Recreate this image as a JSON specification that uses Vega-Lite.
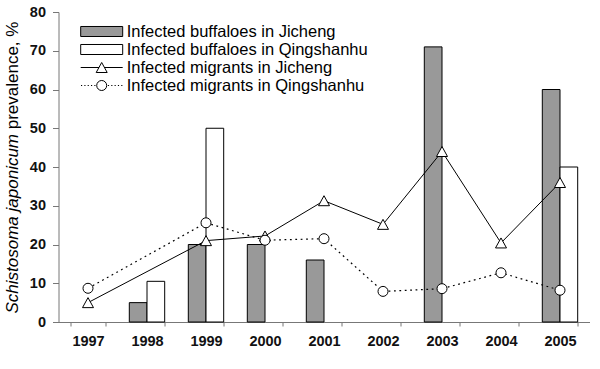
{
  "$schema": "https://vega.github.io/schema/vega-lite/v6.json",
  "width": 531,
  "height": 310,
  "autosize": {"type": "none"},
  "padding": {"left": 58.5, "top": 12, "right": 10.5, "bottom": 47},
  "background": "white",
  "config": {
    "view": {"stroke": null},
    "font": "Liberation Sans",
    "axis": {"grid": false}
  },
  "datasets": {
    "d": [
      {"year": "1998", "series": "Infected buffaloes in Jicheng", "value": 5},
      {"year": "1999", "series": "Infected buffaloes in Jicheng", "value": 20},
      {"year": "2000", "series": "Infected buffaloes in Jicheng", "value": 20},
      {"year": "2001", "series": "Infected buffaloes in Jicheng", "value": 16},
      {"year": "2003", "series": "Infected buffaloes in Jicheng", "value": 71},
      {"year": "2005", "series": "Infected buffaloes in Jicheng", "value": 60},
      {"year": "1998", "series": "Infected buffaloes in Qingshanhu", "value": 10.5},
      {"year": "1999", "series": "Infected buffaloes in Qingshanhu", "value": 50},
      {"year": "2005", "series": "Infected buffaloes in Qingshanhu", "value": 40},
      {"year": "1997", "series": "Infected migrants in Jicheng", "value": 5},
      {"year": "1999", "series": "Infected migrants in Jicheng", "value": 21},
      {"year": "2000", "series": "Infected migrants in Jicheng", "value": 22.2},
      {"year": "2001", "series": "Infected migrants in Jicheng", "value": 31.3},
      {"year": "2002", "series": "Infected migrants in Jicheng", "value": 25.2},
      {"year": "2003", "series": "Infected migrants in Jicheng", "value": 44},
      {"year": "2004", "series": "Infected migrants in Jicheng", "value": 20.4},
      {"year": "2005", "series": "Infected migrants in Jicheng", "value": 36},
      {"year": "1997", "series": "Infected migrants in Qingshanhu", "value": 8.7},
      {"year": "1999", "series": "Infected migrants in Qingshanhu", "value": 25.6},
      {"year": "2000", "series": "Infected migrants in Qingshanhu", "value": 21.1},
      {"year": "2001", "series": "Infected migrants in Qingshanhu", "value": 21.5},
      {"year": "2002", "series": "Infected migrants in Qingshanhu", "value": 7.9},
      {"year": "2003", "series": "Infected migrants in Qingshanhu", "value": 8.6},
      {"year": "2004", "series": "Infected migrants in Qingshanhu", "value": 12.7},
      {"year": "2005", "series": "Infected migrants in Qingshanhu", "value": 8.2}
    ]
  },
  "data": {"name": "d"},
  "encoding": {
    "x": {
      "field": "year",
      "type": "ordinal",
      "scale": {
        "domain": ["1997", "1998", "1999", "2000", "2001", "2002", "2003", "2004", "2005"],
        "paddingInner": 0.4,
        "paddingOuter": 0.2
      },
      "axis": {
        "title": "Schistosoma japonicum",
        "titleFontSize": 17,
        "titleFontWeight": "normal",
        "titleFontStyle": "italic",
        "titleColor": "black",
        "titleAngle": -90,
        "titleX": -46.5,
        "titleY": -9,
        "titleAlign": "left",
        "titleBaseline": "middle",
        "labelAngle": 0,
        "tickBand": "extent",
        "labelFontSize": 14.5,
        "labelFontWeight": "bold",
        "labelColor": "#111111",
        "labelPadding": 8,
        "tickSize": 4,
        "tickColor": "#777777",
        "domainColor": "#777777"
      }
    },
    "y": {
      "field": "value",
      "type": "quantitative",
      "scale": {"domain": [0, 80], "nice": false},
      "axis": {
        "values": [0, 10, 20, 30, 40, 50, 60, 70, 80],
        "title": "prevalence, %",
        "titleFontSize": 17,
        "titleFontWeight": "normal",
        "titleColor": "black",
        "titleAngle": -90,
        "titleX": -46.5,
        "titleY": 116.8,
        "titleAlign": "left",
        "titleBaseline": "middle",
        "labelFontSize": 14.5,
        "labelFontWeight": "bold",
        "labelColor": "#111111",
        "labelPadding": 7,
        "tickSize": 6,
        "tickColor": "#777777",
        "domainColor": "#777777"
      }
    }
  },
  "layer": [
    {
      "transform": [{"filter": "indexof(datum.series, 'buffaloes') >= 0"}],
      "mark": {"type": "bar", "stroke": "black", "strokeWidth": 1},
      "encoding": {
        "xOffset": {
          "field": "series",
          "type": "nominal",
          "scale": {"domain": ["Infected buffaloes in Jicheng", "Infected buffaloes in Qingshanhu"], "paddingInner": 0, "paddingOuter": 0}
        },
        "fill": {
          "condition": {"test": "datum.series === 'Infected buffaloes in Jicheng'", "value": "#999999"},
          "value": "white"
        }
      }
    },
    {
      "transform": [{"filter": "datum.series === 'Infected migrants in Jicheng'"}],
      "mark": {"type": "line", "color": "black", "strokeWidth": 1}
    },
    {
      "transform": [{"filter": "datum.series === 'Infected migrants in Qingshanhu'"}],
      "mark": {"type": "line", "color": "black", "strokeWidth": 1.2, "strokeDash": [1.8, 3.6]}
    },
    {
      "transform": [{"filter": "datum.series === 'Infected migrants in Jicheng'"}],
      "mark": {"type": "point", "shape": "M-1.1,1L0,-1L1.1,1Z", "size": 100, "filled": true, "fill": "white", "stroke": "black", "strokeWidth": 1, "opacity": 1}
    },
    {
      "transform": [{"filter": "datum.series === 'Infected migrants in Qingshanhu'"}],
      "mark": {"type": "point", "shape": "circle", "size": 100, "filled": true, "fill": "white", "stroke": "black", "strokeWidth": 1, "opacity": 1}
    },
    {
      "data": {"values": []},
      "mark": {"type": "point", "filled": true, "opacity": 1, "strokeWidth": 1},
      "encoding": {
        "fill": {
          "field": "series",
          "type": "nominal",
          "scale": {
            "domain": ["Infected buffaloes in Jicheng", "Infected buffaloes in Qingshanhu", "Infected migrants in Jicheng", "Infected migrants in Qingshanhu"],
            "range": ["#999999", "white", "white", "white"]
          },
          "legend": {
            "orient": "none",
            "legendX": 33.7,
            "legendY": 10,
            "title": null,
            "padding": 0,
            "symbolSize": 324,
            "symbolStrokeWidth": 1,
            "symbolOpacity": 1,
            "labelFontSize": 16.5,
            "labelFont": "Liberation Sans",
            "labelColor": "black",
            "labelOffset": 15.5,
            "labelLimit": 400,
            "rowPadding": 0
          }
        },
        "stroke": {
          "field": "series",
          "type": "nominal",
          "scale": {
            "domain": ["Infected buffaloes in Jicheng", "Infected buffaloes in Qingshanhu", "Infected migrants in Jicheng", "Infected migrants in Qingshanhu"],
            "range": ["black", "black", "black", "black"]
          },
          "legend": {
            "orient": "none",
            "legendX": 33.7,
            "legendY": 10,
            "title": null,
            "padding": 0,
            "symbolSize": 324,
            "symbolStrokeWidth": 1,
            "symbolOpacity": 1,
            "labelFontSize": 16.5,
            "labelFont": "Liberation Sans",
            "labelColor": "black",
            "labelOffset": 15.5,
            "labelLimit": 400,
            "rowPadding": 0
          }
        },
        "shape": {
          "field": "series",
          "type": "nominal",
          "scale": {
            "domain": ["Infected buffaloes in Jicheng", "Infected buffaloes in Qingshanhu", "Infected migrants in Jicheng", "Infected migrants in Qingshanhu"],
            "range": [
              "M-2.333,-0.556H2.333V0.556H-2.333Z",
              "M-2.333,-0.556H2.333V0.556H-2.333Z",
              "M-2.333,0H-0.3M0.3,0H2.333M-0.611,0.556L0,-0.556L0.611,0.556Z",
              "M-2.3,0h0.13M-1.93,0h0.13M-1.56,0h0.13M-1.19,0h0.13M-0.82,0h0.13M0.69,0h0.13M1.06,0h0.13M1.43,0h0.13M1.8,0h0.13M2.17,0h0.13M-0.556,0A0.556,0.556 0 1,0 0.556,0A0.556,0.556 0 1,0 -0.556,0Z"
            ]
          },
          "legend": {
            "orient": "none",
            "legendX": 33.7,
            "legendY": 10,
            "title": null,
            "padding": 0,
            "symbolSize": 324,
            "symbolStrokeWidth": 1,
            "symbolOpacity": 1,
            "labelFontSize": 16.5,
            "labelFont": "Liberation Sans",
            "labelColor": "black",
            "labelOffset": 15.5,
            "labelLimit": 400,
            "rowPadding": 0
          }
        }
      }
    }
  ]
}
